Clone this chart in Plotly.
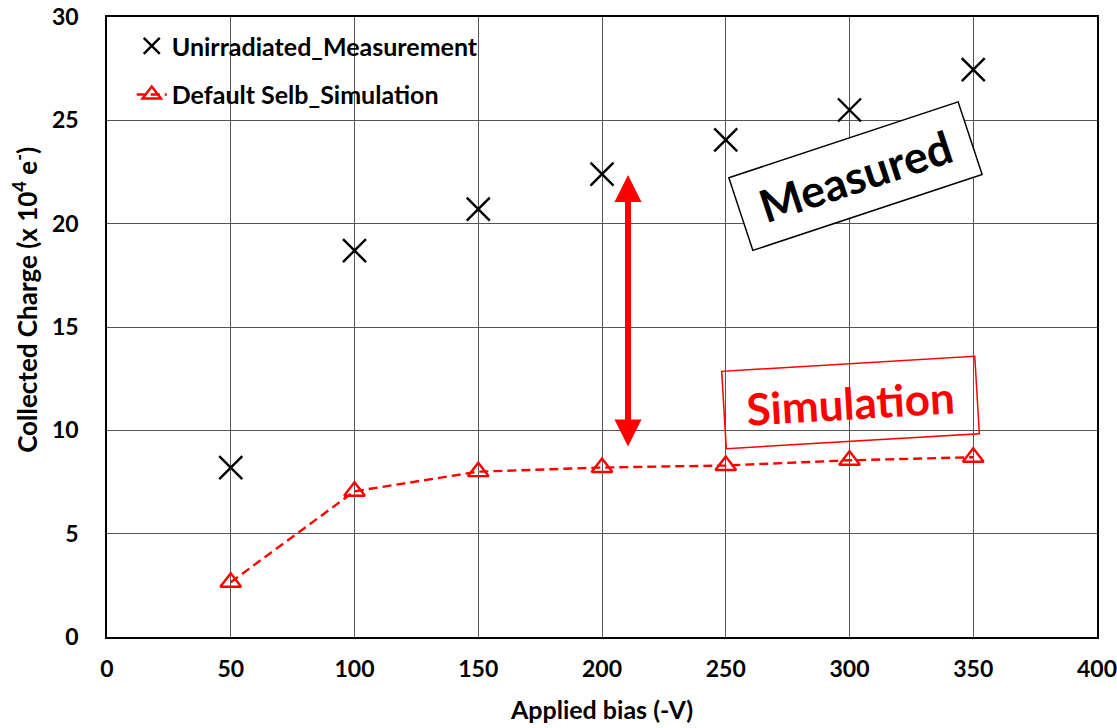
import plotly.graph_objects as go

bias = [50, 100, 150, 200, 250, 300, 350]
measured = [8.2, 18.7, 20.7, 22.4, 24.05, 25.5, 27.45]
simulated = [2.65, 7.05, 8.0, 8.2, 8.3, 8.55, 8.7]

x_ticks = [0, 50, 100, 150, 200, 250, 300, 350, 400]
y_ticks = [0, 5, 10, 15, 20, 25, 30]

FONT = "Lato"

fig = go.Figure()
fig.add_trace(go.Scatter(
    x=bias, y=measured, mode="markers", name="<b>Unirradiated_Measurement</b>", legendgroup="a",
    marker=dict(symbol="x-thin", size=23, line=dict(color="black", width=2.4), color="black"),
))
fig.add_trace(go.Scatter(
    x=bias, y=simulated, mode="lines+markers", name="<b>Default Selb_Simulation</b>", legendgroup="b",
    line=dict(color="red", width=2.4, dash="9px,5px"),
    marker=dict(symbol="triangle-up-open", size=18, color="red", line=dict(color="red", width=2.4)),
))

# double-headed arrow
fig.add_annotation(x=210.5, y=22.35, ax=210.5, ay=9.15, xref="x", yref="y", axref="x", ayref="y",
                   text="", showarrow=True, arrowhead=2, arrowside="end+start",
                   arrowsize=0.9, arrowwidth=6, arrowcolor="red")

fig.add_annotation(x=302.6, y=22.3, xref="x", yref="y", text="<b>Measured</b>", showarrow=False,
                   textangle=-18.3, font=dict(family=FONT, size=45, color="black"),
                   bordercolor="black", borderwidth=1.5, width=238, height=73, bgcolor="white")
fig.add_annotation(x=300.6, y=11.37, xref="x", yref="y", text="<b>Simulation</b>", showarrow=False,
                   textangle=-3.4, font=dict(family=FONT, size=44, color="red"),
                   bordercolor="red", borderwidth=1.5, width=250, height=74, bgcolor="rgba(0,0,0,0)")

# y-axis title (placed like the reference, slightly above plot centre)
fig.add_annotation(x=-0.083, y=0.5435, xref="paper", yref="paper", xanchor="center", yanchor="middle",
                   text="<b>Collected Charge (x 10<sup>4</sup> e<sup>-</sup>)</b>", textangle=-90,
                   showarrow=False, font=dict(family=FONT, size=26, color="black"))

axis_common = dict(showgrid=True, gridcolor="#555555", gridwidth=1, showline=True, linecolor="black",
                   linewidth=1.5, mirror=True, ticks="", zeroline=False, automargin=False,
                   ticklabeloverflow="allow",
                   tickfont=dict(family=FONT, size=23, color="black"))

fig.update_layout(
    width=1117, height=728,
    margin=dict(l=107, r=20, t=17, b=91),
    plot_bgcolor="white", paper_bgcolor="white",
    font=dict(family=FONT, color="black"),
    xaxis=dict(range=[0, 400], tickvals=x_ticks, ticktext=[f"<b>{v}</b>" for v in x_ticks],
               ticklabelstandoff=11,
               title=dict(text="<b>Applied bias (-V)</b>", font=dict(family=FONT, size=25), standoff=20),
               **axis_common),
    yaxis=dict(range=[0, 30], tickvals=y_ticks, ticktext=[f"<b>{v}</b>" for v in y_ticks],
               ticklabelstandoff=22,
               **axis_common),
    legend=dict(x=0.025, y=0.99, xanchor="left", yanchor="top", bgcolor="rgba(0,0,0,0)",
                font=dict(family=FONT, size=25, color="black"), itemwidth=30, tracegroupgap=13),
    showlegend=True,
)

fig.write_html("out.html")
